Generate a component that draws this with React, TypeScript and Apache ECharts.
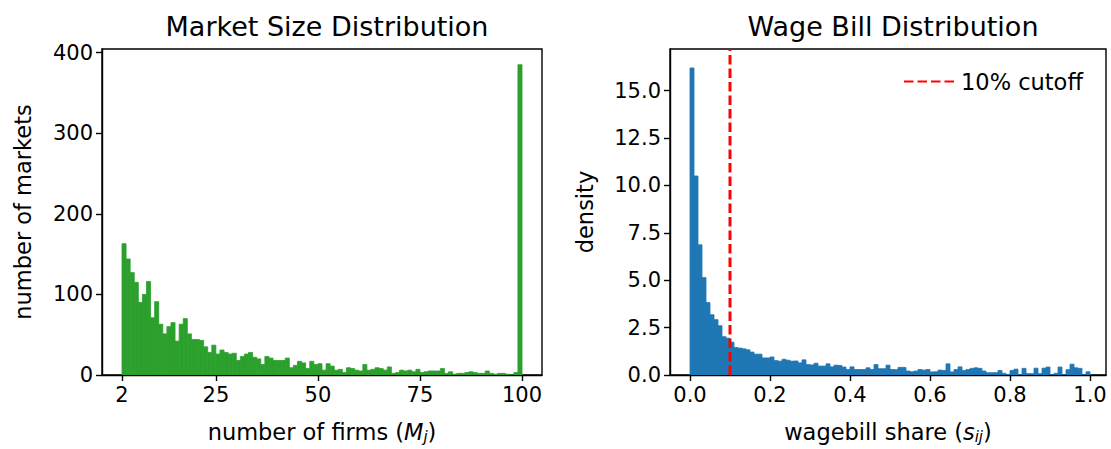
import React, { useEffect, useRef } from "react";
import * as echarts from "echarts";

// ---- Data ----
const marketSizeStart = 2;
const marketSizeBinWidth = 1;
const marketCounts = [
  163, 144, 127, 115, 90, 100, 116, 71, 91, 63,
  51, 60, 65, 42, 63, 70, 51, 44, 44, 43,
  35, 28, 37, 26, 31, 28, 26, 27, 18, 23,
  26, 28, 22, 20, 13, 23, 21, 18, 18, 18,
  21, 9, 12, 17, 15, 8, 17, 13, 14, 6,
  14, 11, 6, 7, 3, 9, 8, 6, 5, 13,
  6, 7, 9, 8, 6, 10, 2, 3, 6, 5,
  6, 4, 7, 3, 4, 5, 5, 5, 8, 2,
  4, 1, 2, 2, 3, 4, 3, 2, 2, 5,
  2, 1, 2, 2, 1, 0, 3, 385,
];

const wageBinStart = 0;
const wageBinWidth = 0.01;
const wageDensity = [
  16.2, 10.5, 6.87, 5.14, 3.82, 3.18, 2.92, 2.6, 2.02, 1.94,
  1.73, 1.45, 1.42, 1.38, 1.33, 1.21, 1.1, 1.1, 0.9, 0.9,
  0.95, 0.76, 0.73, 0.83, 0.78, 0.73, 0.74, 0.64, 0.8, 0.55,
  0.53, 0.62, 0.47, 0.47, 0.59, 0.43, 0.52, 0.5, 0.42, 0.29,
  0.43, 0.29, 0.29, 0.29, 0.38, 0.29, 0.55, 0.33, 0.33, 0.52,
  0.29, 0.28, 0.4, 0.4, 0.21, 0.17, 0.21, 0.29, 0.26, 0.29,
  0.16, 0.17, 0.26, 0.24, 0.59, 0.16, 0.29, 0.43, 0.24, 0.29,
  0.35, 0.38, 0.35, 0.21, 0.12, 0.12, 0.12, 0.24, 0.09, 0.03,
  0.24, 0.31, 0.03, 0.35, 0.07, 0.07, 0.36, 0.07, 0.36, 0.42,
  0.0, 0.09, 0.42, 0.0, 0.28, 0.57, 0.38, 0.35, 0.0, 0.17,
];

const cutoffValue = 0.1;
const cutoffLabel = "10% cutoff";

const leftXTicks = [2, 25, 50, 75, 100];
const leftYTicks = [0, 100, 200, 300, 400];
const rightXTicks = [0, 0.2, 0.4, 0.6, 0.8, 1.0];
const rightYTicks = [0, 2.5, 5, 7.5, 10, 12.5, 15];

const leftTitle = "Market Size Distribution";
const rightTitle = "Wage Bill Distribution";

// ---- Styles ----
const FONT = "DejaVu Sans";
const TICK_FS = 21;
const LABEL_FS = 22.5;
const TITLE_FS = 27;
const GREEN = "#2ca02c";
const BLUE = "#1f77b4";
const RED = "#ff0000";

const LEFT_X = [-2.9, 104.9];
const LEFT_Y = [0, 404.5];
const RIGHT_X = [-0.05, 1.04];
const RIGHT_Y = [0, 17.2];

function histData(start: number, width: number, vals: number[]) {
  return vals.map((v, i) => [start + i * width, start + (i + 1) * width, v]);
}

function barRenderer(color: string) {
  return (_params: any, api: any) => {
    const x0 = api.value(0);
    const x1 = api.value(1);
    const y = api.value(2);
    const p0 = api.coord([x0, y]);
    const p1 = api.coord([x1, 0]);
    return {
      type: "rect",
      shape: { x: p0[0], y: p0[1], width: p1[0] - p0[0], height: p1[1] - p0[1] },
      style: { fill: color, stroke: color, lineWidth: 0.8 },
    };
  };
}

function xAxis(gridIndex: number, range: number[], ticks: number[], fmt: (v: number) => string, name: any) {
  return {
    type: "value",
    gridIndex,
    min: range[0],
    max: range[1],
    axisLine: { show: true, onZero: false, lineStyle: { color: "#000", width: 1.4 } },
    axisTick: { show: true, length: 6, customValues: ticks, lineStyle: { color: "#000", width: 1.4 } },
    axisLabel: {
      customValues: ticks,
      formatter: (v: number) => fmt(v),
      fontSize: TICK_FS,
      fontFamily: FONT,
      color: "#000",
      margin: 9,
    },
    splitLine: { show: false },
    name: name.text,
    nameLocation: "middle",
    nameGap: 44,
    nameTextStyle: {
      fontSize: LABEL_FS,
      fontFamily: FONT,
      color: "#000",
      rich: name.rich,
    },
  };
}

function yAxis(gridIndex: number, range: number[], ticks: number[], fmt: (v: number) => string, name: string, gap: number) {
  return {
    type: "value",
    gridIndex,
    min: range[0],
    max: range[1],
    axisLine: { show: true, onZero: false, lineStyle: { color: "#000", width: 1.4 } },
    axisTick: { show: true, length: 6, customValues: ticks, lineStyle: { color: "#000", width: 1.4 } },
    axisLabel: {
      customValues: ticks,
      formatter: (v: number) => fmt(v),
      fontSize: TICK_FS,
      fontFamily: FONT,
      color: "#000",
      margin: 9,
    },
    splitLine: { show: false },
    name,
    nameLocation: "middle",
    nameGap: gap,
    nameTextStyle: { fontSize: LABEL_FS, fontFamily: FONT, color: "#000" },
  };
}

export default function App() {
  const ref = useRef<HTMLDivElement>(null);

  useEffect(() => {
    document.body.style.margin = "0";
    if (!ref.current) return;
    const chart = echarts.init(ref.current, undefined, { renderer: "svg" });

    const subRich = {
      it: { fontStyle: "italic", fontSize: LABEL_FS, fontFamily: FONT, color: "#000" },
      sub: { fontStyle: "italic", fontSize: 15, fontFamily: FONT, color: "#000", verticalAlign: "bottom", padding: [10, 0, 0, 0] },
    };

    const option: any = {
      animation: false,
      backgroundColor: "#fff",
      title: [
        {
          text: leftTitle,
          left: 322,
          top: 8,
          textAlign: "center",
          textStyle: { fontSize: TITLE_FS, fontWeight: "normal", fontFamily: FONT, color: "#000" },
        },
        {
          text: rightTitle,
          left: 888,
          top: 8,
          textAlign: "center",
          textStyle: { fontSize: TITLE_FS, fontWeight: "normal", fontFamily: FONT, color: "#000" },
        },
      ],
      legend: {
        data: [cutoffLabel],
        left: 898,
        top: 65,
        itemWidth: 52,
        itemHeight: 14,
        itemGap: 10,
        itemStyle: { opacity: 0 },
        textStyle: { fontSize: LABEL_FS, fontFamily: FONT, color: "#000" },
      },
      grid: [
        { left: 102, top: 49, width: 440, height: 328, show: true, borderColor: "#000", borderWidth: 1.4, backgroundColor: "transparent" },
        { left: 670, top: 49, width: 436, height: 328, show: true, borderColor: "#000", borderWidth: 1.4, backgroundColor: "transparent" },
      ],
      xAxis: [
        xAxis(0, LEFT_X, leftXTicks, (v) => String(v), {
          text: "number of firms ({it|M}{sub|j})",
          rich: subRich,
        }),
        xAxis(1, RIGHT_X, rightXTicks, (v) => v.toFixed(1), {
          text: "wagebill share ({it|s}{sub|ij})",
          rich: subRich,
        }),
      ],
      yAxis: [
        yAxis(0, LEFT_Y, leftYTicks, (v) => String(v), "number of markets", 68),
        yAxis(1, RIGHT_Y, rightYTicks, (v) => v.toFixed(1), "density", 74),
      ],
      series: [
        {
          type: "custom",
          xAxisIndex: 0,
          yAxisIndex: 0,
          renderItem: barRenderer(GREEN),
          encode: { x: [0, 1], y: 2 },
          data: histData(marketSizeStart, marketSizeBinWidth, marketCounts),
          clip: true,
        },
        {
          type: "custom",
          xAxisIndex: 1,
          yAxisIndex: 1,
          renderItem: barRenderer(BLUE),
          encode: { x: [0, 1], y: 2 },
          data: histData(wageBinStart, wageBinWidth, wageDensity),
          clip: true,
        },
        {
          type: "line",
          name: cutoffLabel,
          xAxisIndex: 1,
          yAxisIndex: 1,
          symbol: "none",
          color: RED,
          lineStyle: { color: RED, width: 3, type: [9.5, 4] },
          data: [
            [cutoffValue, RIGHT_Y[0]],
            [cutoffValue, RIGHT_Y[1]],
          ],
          z: 5,
        },
      ],
    };

    chart.setOption(option);
    return () => chart.dispose();
  }, []);

  return <div ref={ref} style={{ width: 1111, height: 449 }} />;
}
